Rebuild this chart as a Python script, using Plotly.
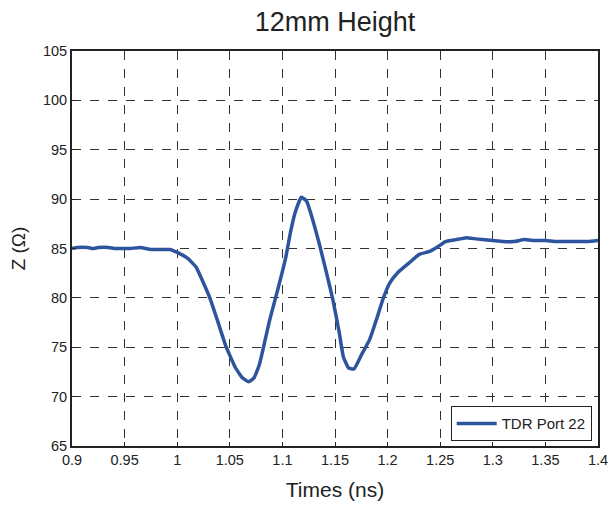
import plotly.graph_objects as go

times_ns = [0.900, 0.905, 0.915, 0.920, 0.925, 0.935, 0.940, 0.950, 0.955, 0.965,
            0.970, 0.975, 0.985, 0.993, 1.000, 1.010, 1.018, 1.025, 1.031, 1.038,
            1.046, 1.055, 1.062, 1.068, 1.073, 1.078, 1.088, 1.096, 1.103, 1.108,
            1.112, 1.118, 1.123, 1.128, 1.135, 1.142, 1.148, 1.154, 1.158, 1.163,
            1.168, 1.175, 1.183, 1.190, 1.196, 1.202, 1.210, 1.220, 1.230, 1.240,
            1.248, 1.255, 1.265, 1.275, 1.282, 1.290, 1.300, 1.310, 1.320, 1.330,
            1.340, 1.350, 1.360, 1.370, 1.380, 1.390, 1.400]
impedance = [85.0, 85.1, 85.1, 85.0, 85.1, 85.1, 85.0, 85.0, 85.0, 85.1,
             85.0, 84.9, 84.9, 84.9, 84.6, 84.0, 83.1, 81.5, 80.0, 77.8,
             75.2, 73.0, 71.9, 71.5, 71.9, 73.2, 77.8, 81.0, 84.0, 86.8,
             88.6, 90.2, 89.8, 88.2, 85.5, 82.5, 79.8, 76.5, 74.0, 72.9,
             72.8, 74.2, 75.8, 78.0, 80.0, 81.5, 82.6, 83.5, 84.4, 84.7,
             85.2, 85.7, 85.9, 86.1, 86.0, 85.9, 85.8, 85.7, 85.7, 85.9,
             85.8, 85.8, 85.7, 85.7, 85.7, 85.7, 85.8]

x_tickvals = [0.9, 0.95, 1.0, 1.05, 1.1, 1.15, 1.2, 1.25, 1.3, 1.35, 1.4]
x_ticktext = ["0.9", "0.95", "1", "1.05", "1.1", "1.15", "1.2", "1.25", "1.3", "1.35", "1.4"]
y_tickvals = [65, 70, 75, 80, 85, 90, 95, 100, 105]
y_ticktext = ["65", "70", "75", "80", "85", "90", "95", "100", "105"]

series_name = "TDR Port 22"
title_text = "12mm Height"
x_title = "Times (ns)"
y_title = "Z (Ω)"

font_family = "Liberation Sans, Arial, sans-serif"

fig = go.Figure()
fig.add_trace(go.Scatter(
    x=times_ns, y=impedance, mode="lines", name=series_name,
    line=dict(color="#2f549e", width=3.5, shape="spline", smoothing=0.4),
))

axis_common = dict(
    showline=True, linecolor="#222222", linewidth=2, mirror=True,
    showgrid=True, gridcolor="#333333", gridwidth=1, griddash="dash",
    ticks="inside", ticklen=4, tickcolor="#222222",
    zeroline=False, automargin=False, ticklabeloverflow="allow",
    tickfont=dict(size=14.5, color="#222222", family=font_family),
)

fig.update_layout(
    width=608, height=493,
    margin=dict(l=64, r=18, t=43, b=55),
    paper_bgcolor="white", plot_bgcolor="white",
    font=dict(family=font_family, color="#222222"),
    title=dict(text=title_text, x=0.5, xref="paper", xanchor="center",
               y=0.972, yref="container", yanchor="middle",
               font=dict(size=27, color="#222222")),
    xaxis=dict(range=[0.9, 1.4], tickmode="array", tickvals=x_tickvals,
               ticktext=x_ticktext,
               title=dict(text=x_title, font=dict(size=21), standoff=18),
               **axis_common),
    yaxis=dict(range=[65, 105], tickmode="array", tickvals=y_tickvals,
               ticktext=y_ticktext,
               title=dict(text=y_title, font=dict(size=19), standoff=12),
               **axis_common),
    showlegend=True,
    legend=dict(x=0.988, y=0.012, xanchor="right", yanchor="bottom",
                bgcolor="white", bordercolor="#222222", borderwidth=1,
                font=dict(size=15, color="#222222"), itemwidth=40,
                tracegroupgap=0),
)

fig.write_html("out.html")
